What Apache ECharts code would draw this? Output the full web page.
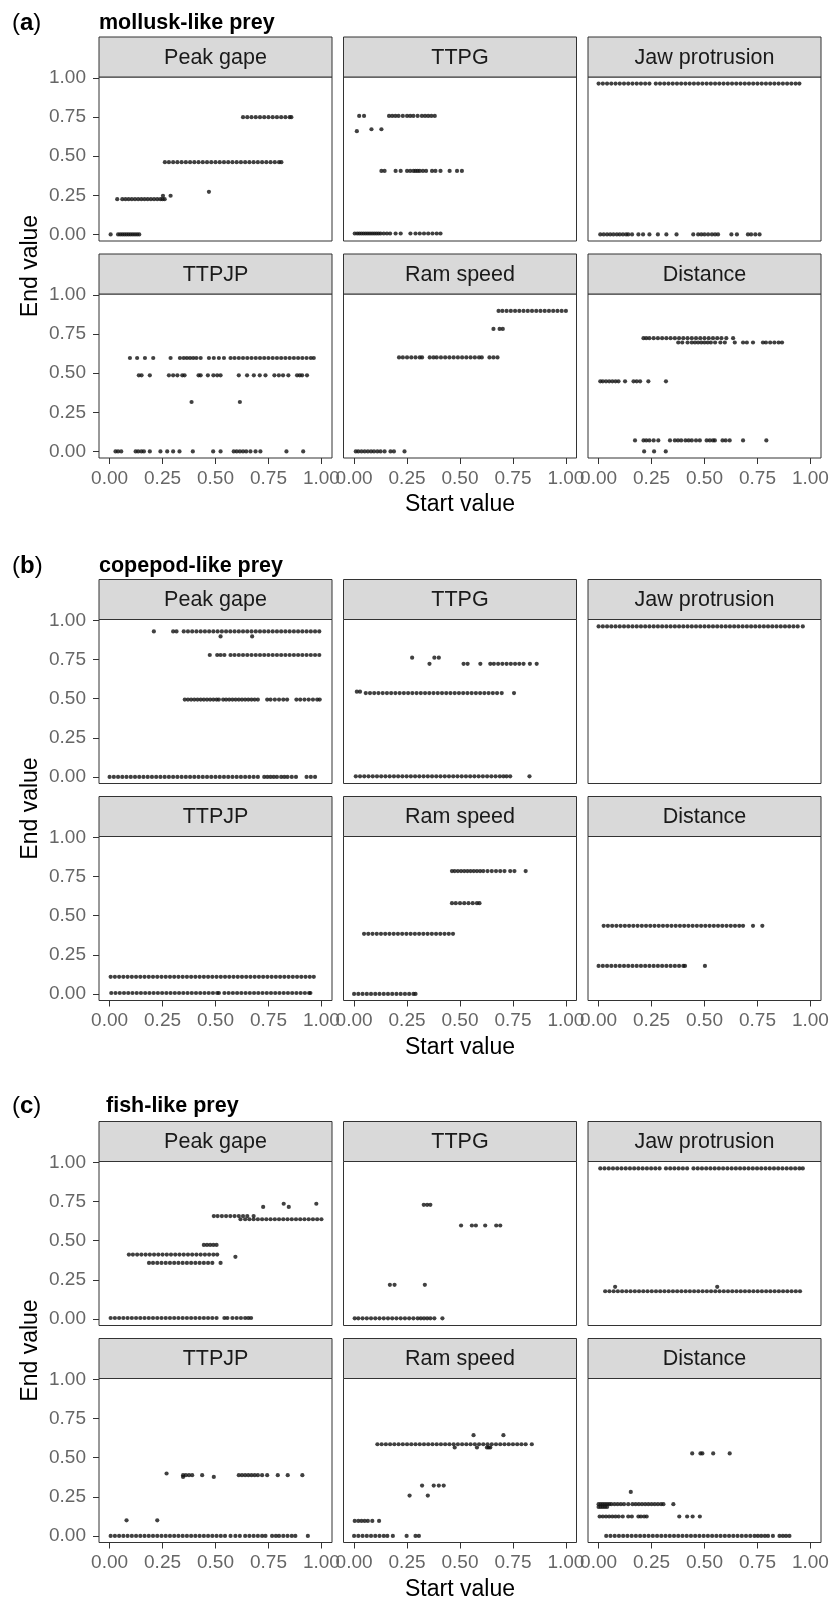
<!DOCTYPE html>
<html><head><meta charset="utf-8">
<script src="https://cdn.jsdelivr.net/npm/echarts@6/dist/echarts.min.js"></script>
<style>html,body{margin:0;padding:0;background:#fff}#c{width:832px;height:1600px}</style>
</head><body><div id="c"></div>
<script>
// ---------- labels ----------
const facetNames = ['Peak gape', 'TTPG', 'Jaw protrusion', 'TTPJP', 'Ram speed', 'Distance'];
const sectionLetters = ['a', 'b', 'c'];
const sectionTitles = ['mollusk-like prey', 'copepod-like prey', 'fish-like prey'];
const tickValues = [0, 0.25, 0.5, 0.75, 1];
const tickLabels = ['0.00', '0.25', '0.50', '0.75', '1.00'];
const xAxisTitle = 'Start value';
const yAxisTitle = 'End value';

// ---------- data: rows of [endValue, [startValues...]] ----------
// (a) mollusk-like prey
const molluskPeakGape = [
  [0.000, [.005,.04,.05,.06,.07,.08,.09,.10,.11,.12,.13,.14]],
  [0.225, [.036,.06,.075,.09,.105,.12,.135,.15,.165,.18,.195,.21,.225,.24,.25,.26]],
  [0.247, [.252,.288]],
  [0.272, [.469]],
  [0.462, [.261,.28,.30,.32,.34,.36,.38,.40,.42,.44,.46,.48,.50,.52,.54,.56,.58,.60,.62,.64,.66,.68,.70,.72,.74,.76,.78,.80,.811]],
  [0.749, [.63,.65,.67,.69,.71,.73,.75,.77,.79,.81,.83,.85,.858]]
];
const molluskTTPG = [
  [0.757, [.024,.047,.165,.18,.195,.21,.23,.25,.265,.28,.30,.32,.335,.35,.365,.381]],
  [0.660, [.013]],
  [0.672, [.082,.129]],
  [0.406, [.129,.144,.196,.22,.25,.265,.28,.29,.30,.31,.325,.34,.368,.384,.408,.451,.486,.509]],
  [0.006, [.003,.015,.025,.035,.045,.055,.065,.075,.085,.095,.105,.115,.125,.14,.155,.17,.196,.22,.266,.29,.31,.33,.35,.37,.39,.408]]
];
const molluskJaw = [
  [0.964, [0,.02,.04,.06,.08,.10,.12,.14,.16,.18,.20,.22,.24,.27,.29,.31,.33,.35,.37,.39,.41,.43,.45,.47,.49,.51,.53,.55,.57,.59,.61,.63,.65,.67,.69,.71,.73,.75,.77,.79,.81,.83,.85,.87,.89,.91,.93,.948]],
  [0.000, [.008,.024,.04,.055,.07,.086,.10,.115,.13,.14,.158,.188,.21,.24,.28,.32,.368,.447,.47,.485,.50,.517,.535,.55,.564,.627,.653,.705,.72,.74,.76]]
];
const molluskTTPJP = [
  [0.597, [.096,.13,.167,.206,.288,.332,.35,.365,.38,.395,.41,.43,.469,.492,.516,.54,.571,.59,.61,.63,.65,.67,.69,.71,.73,.75,.77,.79,.81,.83,.85,.87,.89,.91,.93,.95,.964]],
  [0.486, [.138,.151,.19,.28,.30,.32,.343,.354,.42,.43,.464,.49,.508,.524,.61,.649,.681,.709,.736,.778,.799,.819,.844,.885,.898,.909,.932]],
  [0.316, [.387,.615]],
  [0.000, [.028,.04,.055,.123,.135,.15,.162,.19,.24,.272,.30,.33,.393,.489,.524,.586,.60,.615,.63,.645,.665,.689,.712,.835,.914]]
];
const molluskRam = [
  [0.898, [.682,.70,.72,.74,.76,.78,.80,.82,.84,.86,.88,.90,.92,.94,.96,.98,1.0]],
  [0.783, [.658,.687,.702]],
  [0.601, [.212,.23,.25,.27,.29,.31,.321,.357,.375,.39,.41,.43,.45,.47,.49,.51,.53,.55,.57,.59,.603,.639,.658,.677]],
  [0.000, [.008,.02,.035,.05,.065,.08,.094,.11,.125,.144,.172,.188,.238]]
];
const molluskDistance = [
  [0.724, [.212,.225,.24,.26,.28,.30,.32,.34,.36,.38,.40,.42,.44,.46,.48,.50,.52,.54,.56,.58,.603,.635]],
  [0.696, [.376,.395,.42,.44,.455,.47,.485,.50,.515,.53,.55,.575,.596,.643,.682,.70,.729,.776,.79,.81,.83,.85,.866]],
  [0.448, [.008,.02,.035,.05,.065,.08,.094,.125,.165,.18,.196,.235,.318]],
  [0.070, [.172,.212,.225,.24,.26,.282,.337,.36,.375,.39,.41,.425,.44,.46,.478,.51,.525,.54,.549,.585,.60,.619,.682,.792]],
  [0.000, [.215,.262,.317]]
];
// (b) copepod-like prey
const copepodPeakGape = [
  [0.930, [.209,.30,.316,.35,.37,.39,.41,.43,.45,.47,.49,.51,.53,.55,.57,.59,.61,.63,.65,.67,.69,.71,.73,.75,.77,.79,.81,.83,.85,.87,.89,.91,.93,.95,.97,.99]],
  [0.898, [.524,.673]],
  [0.779, [.473,.508,.524,.542,.571,.59,.61,.63,.65,.67,.69,.71,.73,.75,.77,.79,.81,.83,.85,.87,.89,.91,.93,.95,.97,.99]],
  [0.494, [.355,.37,.385,.40,.415,.43,.445,.46,.475,.49,.505,.516,.536,.55,.565,.58,.595,.61,.625,.64,.655,.67,.685,.70,.744,.76,.78,.80,.82,.838,.882,.90,.92,.94,.96,.98,.992]],
  [0.000, [0,.02,.04,.06,.08,.10,.12,.14,.16,.18,.20,.22,.24,.26,.28,.30,.32,.34,.36,.38,.40,.42,.44,.46,.48,.50,.52,.54,.56,.58,.60,.62,.64,.66,.68,.70,.73,.745,.76,.775,.79,.81,.825,.84,.86,.88,.93,.95,.97]]
];
const copepodTTPG = [
  [0.762, [.274,.379,.40]],
  [0.723, [.356,.517,.536,.596,.643,.66,.68,.70,.72,.74,.76,.78,.80,.83,.862]],
  [0.545, [.013,.028]],
  [0.536, [.055,.075,.095,.115,.135,.155,.175,.195,.215,.235,.255,.275,.295,.315,.335,.355,.375,.395,.415,.435,.455,.475,.495,.515,.535,.555,.575,.595,.615,.635,.655,.675,.697,.755]],
  [0.004, [.008,.028,.048,.068,.088,.108,.128,.148,.168,.188,.208,.228,.248,.268,.288,.308,.328,.348,.368,.388,.408,.428,.448,.468,.488,.508,.528,.548,.568,.588,.608,.628,.648,.668,.688,.705,.72,.737,.828]]
];
const copepodJaw = [
  [0.962, [0,.02,.04,.06,.08,.10,.12,.14,.16,.18,.20,.22,.24,.26,.28,.30,.32,.34,.36,.38,.40,.42,.44,.46,.48,.50,.52,.54,.56,.58,.60,.62,.64,.66,.68,.70,.72,.74,.76,.78,.80,.82,.84,.86,.88,.90,.92,.94,.964]]
];
const copepodTTPJP = [
  [0.109, [.005,.025,.045,.065,.085,.105,.125,.145,.165,.185,.205,.225,.245,.265,.285,.305,.325,.345,.365,.385,.405,.425,.445,.465,.485,.505,.525,.545,.565,.585,.605,.625,.645,.665,.685,.705,.725,.745,.765,.785,.805,.825,.845,.865,.885,.905,.925,.945,.964]],
  [0.006, [.008,.028,.048,.068,.088,.108,.128,.148,.168,.188,.208,.228,.248,.268,.288,.308,.328,.348,.368,.388,.408,.428,.448,.468,.488,.508,.516,.542,.562,.582,.602,.622,.642,.662,.682,.702,.722,.742,.762,.782,.802,.822,.842,.862,.882,.902,.922,.942,.948]]
];
const copepodRam = [
  [0.785, [.462,.475,.49,.505,.52,.535,.55,.565,.58,.595,.61,.63,.65,.67,.69,.71,.737,.757,.81]],
  [0.580, [.462,.48,.50,.52,.54,.56,.58,.592]],
  [0.384, [.047,.067,.087,.107,.127,.147,.167,.187,.207,.227,.247,.267,.287,.307,.327,.347,.367,.387,.407,.427,.447,.467]],
  [0.000, [0,.02,.04,.06,.08,.10,.12,.14,.16,.18,.20,.22,.24,.26,.28,.29]]
];
const copepodDistance = [
  [0.435, [.024,.044,.064,.084,.104,.124,.144,.164,.184,.204,.224,.244,.264,.284,.304,.324,.344,.364,.384,.404,.424,.444,.464,.484,.504,.524,.544,.564,.584,.604,.624,.644,.664,.682,.729,.773]],
  [0.179, [0,.02,.04,.06,.08,.10,.12,.14,.16,.18,.20,.22,.24,.26,.28,.30,.32,.34,.36,.38,.40,.408,.502]]
];
// (c) fish-like prey
const fishPeakGape = [
  [0.657, [.492,.51,.53,.55,.57,.59,.61,.63,.65,.68]],
  [0.637, [.618,.64,.66,.68,.70,.72,.74,.76,.78,.80,.82,.84,.86,.88,.90,.92,.94,.96,.98,1.0]],
  [0.716, [.725,.846]],
  [0.736, [.822,.976]],
  [0.473, [.445,.46,.475,.49,.505]],
  [0.411, [.091,.11,.13,.15,.17,.19,.21,.23,.25,.27,.29,.31,.33,.35,.37,.39,.41,.43,.45,.47,.49,.508]],
  [0.397, [.594]],
  [0.358, [.186,.205,.225,.245,.265,.285,.305,.325,.345,.365,.385,.405,.425,.445,.465,.485,.524]],
  [0.006, [.005,.025,.045,.065,.085,.105,.125,.145,.165,.185,.205,.225,.245,.265,.285,.305,.325,.345,.365,.385,.405,.425,.445,.465,.485,.505,.542,.556,.58,.60,.62,.64,.655,.668]]
];
const fishTTPG = [
  [0.729, [.329,.345,.36]],
  [0.597, [.505,.556,.575,.619,.671,.69]],
  [0.218, [.169,.191,.334]],
  [0.004, [.003,.02,.04,.06,.08,.10,.12,.14,.16,.18,.20,.22,.24,.26,.28,.30,.315,.33,.345,.36,.379,.417]]
];
const fishJaw = [
  [0.962, [.008,.028,.048,.068,.088,.108,.128,.148,.168,.188,.208,.228,.248,.268,.288,.318,.338,.358,.378,.398,.418,.448,.468,.488,.508,.528,.548,.568,.588,.608,.628,.648,.668,.688,.708,.728,.748,.768,.788,.808,.828,.848,.868,.888,.908,.928,.948,.964]],
  [0.177, [.031,.051,.071,.091,.111,.131,.151,.171,.191,.211,.231,.251,.271,.291,.311,.331,.351,.371,.391,.411,.431,.451,.471,.491,.511,.531,.551,.571,.591,.611,.631,.651,.671,.691,.711,.731,.751,.771,.791,.811,.831,.851,.871,.891,.911,.931,.951]],
  [0.205, [.078,.56]]
];
const fishTTPJP = [
  [0.399, [.269]],
  [0.388, [.347,.36,.375,.39,.437,.61,.625,.64,.655,.67,.685,.70,.72,.744,.794,.841,.91]],
  [0.377, [.347,.492]],
  [0.100, [.08,.225]],
  [0.000, [.005,.025,.045,.065,.085,.105,.125,.145,.165,.185,.205,.225,.245,.265,.285,.305,.325,.345,.365,.385,.405,.425,.445,.465,.485,.505,.525,.545,.571,.594,.615,.64,.66,.68,.70,.72,.736,.767,.785,.80,.82,.84,.86,.877,.936]]
];
const fishRam = [
  [0.586, [.11,.13,.15,.17,.19,.21,.23,.25,.27,.29,.31,.33,.35,.37,.39,.41,.43,.45,.47,.49,.51,.53,.55,.57,.59,.61,.63,.65,.67,.69,.71,.73,.75,.77,.79,.81,.839]],
  [0.644, [.564,.705]],
  [0.565, [.475,.58,.627,.635,.643]],
  [0.322, [.321,.376,.40,.423]],
  [0.258, [.262,.348]],
  [0.096, [.003,.02,.035,.05,.065,.086,.118]],
  [0.000, [0,.02,.04,.06,.08,.10,.12,.14,.157,.183,.248,.29,.306]]
];
const fishDistance = [
  [0.527, [.442,.481,.49,.541,.619]],
  [0.281, [.152]],
  [0.203, [0,.01,.02,.03,.04,.05,.06,.075,.09,.105,.12,.14,.16,.175,.19,.205,.22,.235,.25,.265,.28,.295,.306,.353]],
  [0.185, [0,.01,.02,.03,.04]],
  [0.124, [.005,.02,.035,.05,.065,.08,.095,.114,.14,.157,.188,.20,.215,.227,.381,.418,.444,.478]],
  [0.000, [.036,.056,.076,.096,.116,.136,.156,.176,.196,.216,.236,.256,.276,.296,.316,.336,.356,.376,.396,.416,.436,.456,.476,.496,.516,.536,.556,.576,.596,.616,.636,.656,.676,.696,.716,.736,.752,.768,.785,.80,.823,.854,.87,.885,.901]]
];

// ---------- build ----------
const panels = [
  [molluskPeakGape, molluskTTPG, molluskJaw, molluskTTPJP, molluskRam, molluskDistance],
  [copepodPeakGape, copepodTTPG, copepodJaw, copepodTTPJP, copepodRam, copepodDistance],
  [fishPeakGape, fishTTPG, fishJaw, fishTTPJP, fishRam, fishDistance]
];

const FONT = '"Liberation Sans", Arial, Helvetica, sans-serif';
const colLeft = [99, 343.5, 588], colW = 233;
const sectionTop = [37, 579.5, 1121.5];
const stripH = 40, panelH = 164, rowStep = 217;
const titleY = [23, 566.5, 1106];
const titleX = [99, 99, 106];

function toPoints(rows) {
  const out = [];
  rows.forEach(([y, xs]) => xs.forEach(x => out.push([x, y])));
  return out;
}
const fmt = v => { const i = tickValues.indexOf(v); return i >= 0 ? tickLabels[i] : ''; };

const grid = [], xAxis = [], yAxis = [], series = [], graphic = [];
for (let s = 0; s < 3; s++) {
  for (let f = 0; f < 6; f++) {
    const r = Math.floor(f / 3), c = f % 3;
    const idx = s * 6 + f;
    const stripTop = sectionTop[s] + r * rowStep;
    const top = stripTop + stripH;
    grid.push({ left: colLeft[c], top: top, width: colW, height: panelH, show: true,
      borderColor: '#333', borderWidth: 1, backgroundColor: '#fff',
      containLabel: false, outerBoundsMode: 'none' });
    xAxis.push({ type: 'value', gridIndex: idx, min: -0.05, max: 1.05, position: 'bottom',
      axisLine: { show: false, onZero: false }, splitLine: { show: false },
      axisTick: { show: r === 1, customValues: tickValues, length: 6, lineStyle: { color: '#333', width: 1 } },
      axisLabel: { show: r === 1, customValues: tickValues, formatter: fmt, color: '#666', fontSize: 19, fontFamily: FONT, margin: 11 } });
    yAxis.push({ type: 'value', gridIndex: idx, min: -0.042, max: 1.006, position: 'left',
      axisLine: { show: false, onZero: false }, splitLine: { show: false },
      axisTick: { show: c === 0, customValues: tickValues, length: 6, lineStyle: { color: '#333', width: 1 } },
      axisLabel: { show: c === 0, customValues: tickValues, formatter: fmt, color: '#666', fontSize: 19, fontFamily: FONT, margin: 13 } });
    series.push({ type: 'scatter', xAxisIndex: idx, yAxisIndex: idx, data: toPoints(panels[s][f]),
      symbol: 'circle', symbolSize: 4.2, itemStyle: { color: '#111' }, silent: true });
    graphic.push({ type: 'rect', shape: { x: colLeft[c], y: stripTop, width: colW, height: stripH },
      style: { fill: '#d9d9d9', stroke: '#333', lineWidth: 1 } });
    graphic.push({ type: 'text', x: colLeft[c] + colW / 2, y: stripTop + stripH / 2 + 1,
      style: { text: facetNames[f], fontSize: 21.5, fontFamily: FONT, fill: '#1a1a1a', textAlign: 'center', textVerticalAlign: 'middle' } });
  }
  // section label and title
  graphic.push({ type: 'text', x: 12, y: titleY[s],
    style: { text: '{n|(}{b|' + sectionLetters[s] + '}{n|)}', textVerticalAlign: 'middle',
      rich: { n: { fontSize: 24, fontFamily: FONT, fill: '#000' }, b: { fontSize: 24, fontWeight: 'bold', fontFamily: FONT, fill: '#000' } } } });
  graphic.push({ type: 'text', x: titleX[s], y: titleY[s],
    style: { text: sectionTitles[s], fontSize: 21.5, fontWeight: 'bold', fontFamily: FONT, fill: '#000', textVerticalAlign: 'middle' } });
  // axis titles
  graphic.push({ type: 'text', x: colLeft[1] + colW / 2, y: sectionTop[s] + rowStep + stripH + panelH + 47,
    style: { text: xAxisTitle, fontSize: 23, fontFamily: FONT, fill: '#000', textAlign: 'center', textVerticalAlign: 'middle' } });
  graphic.push({ type: 'text', x: 31, y: sectionTop[s] + 229, rotation: Math.PI / 2,
    style: { text: yAxisTitle, fontSize: 23, fontFamily: FONT, fill: '#000', textAlign: 'center', textVerticalAlign: 'middle' } });
}

const chart = echarts.init(document.getElementById('c'), null, { renderer: 'canvas', width: 832, height: 1600 });
chart.setOption({ animation: false, backgroundColor: '#fff', grid, xAxis, yAxis, series, graphic });
</script>
</body></html>
